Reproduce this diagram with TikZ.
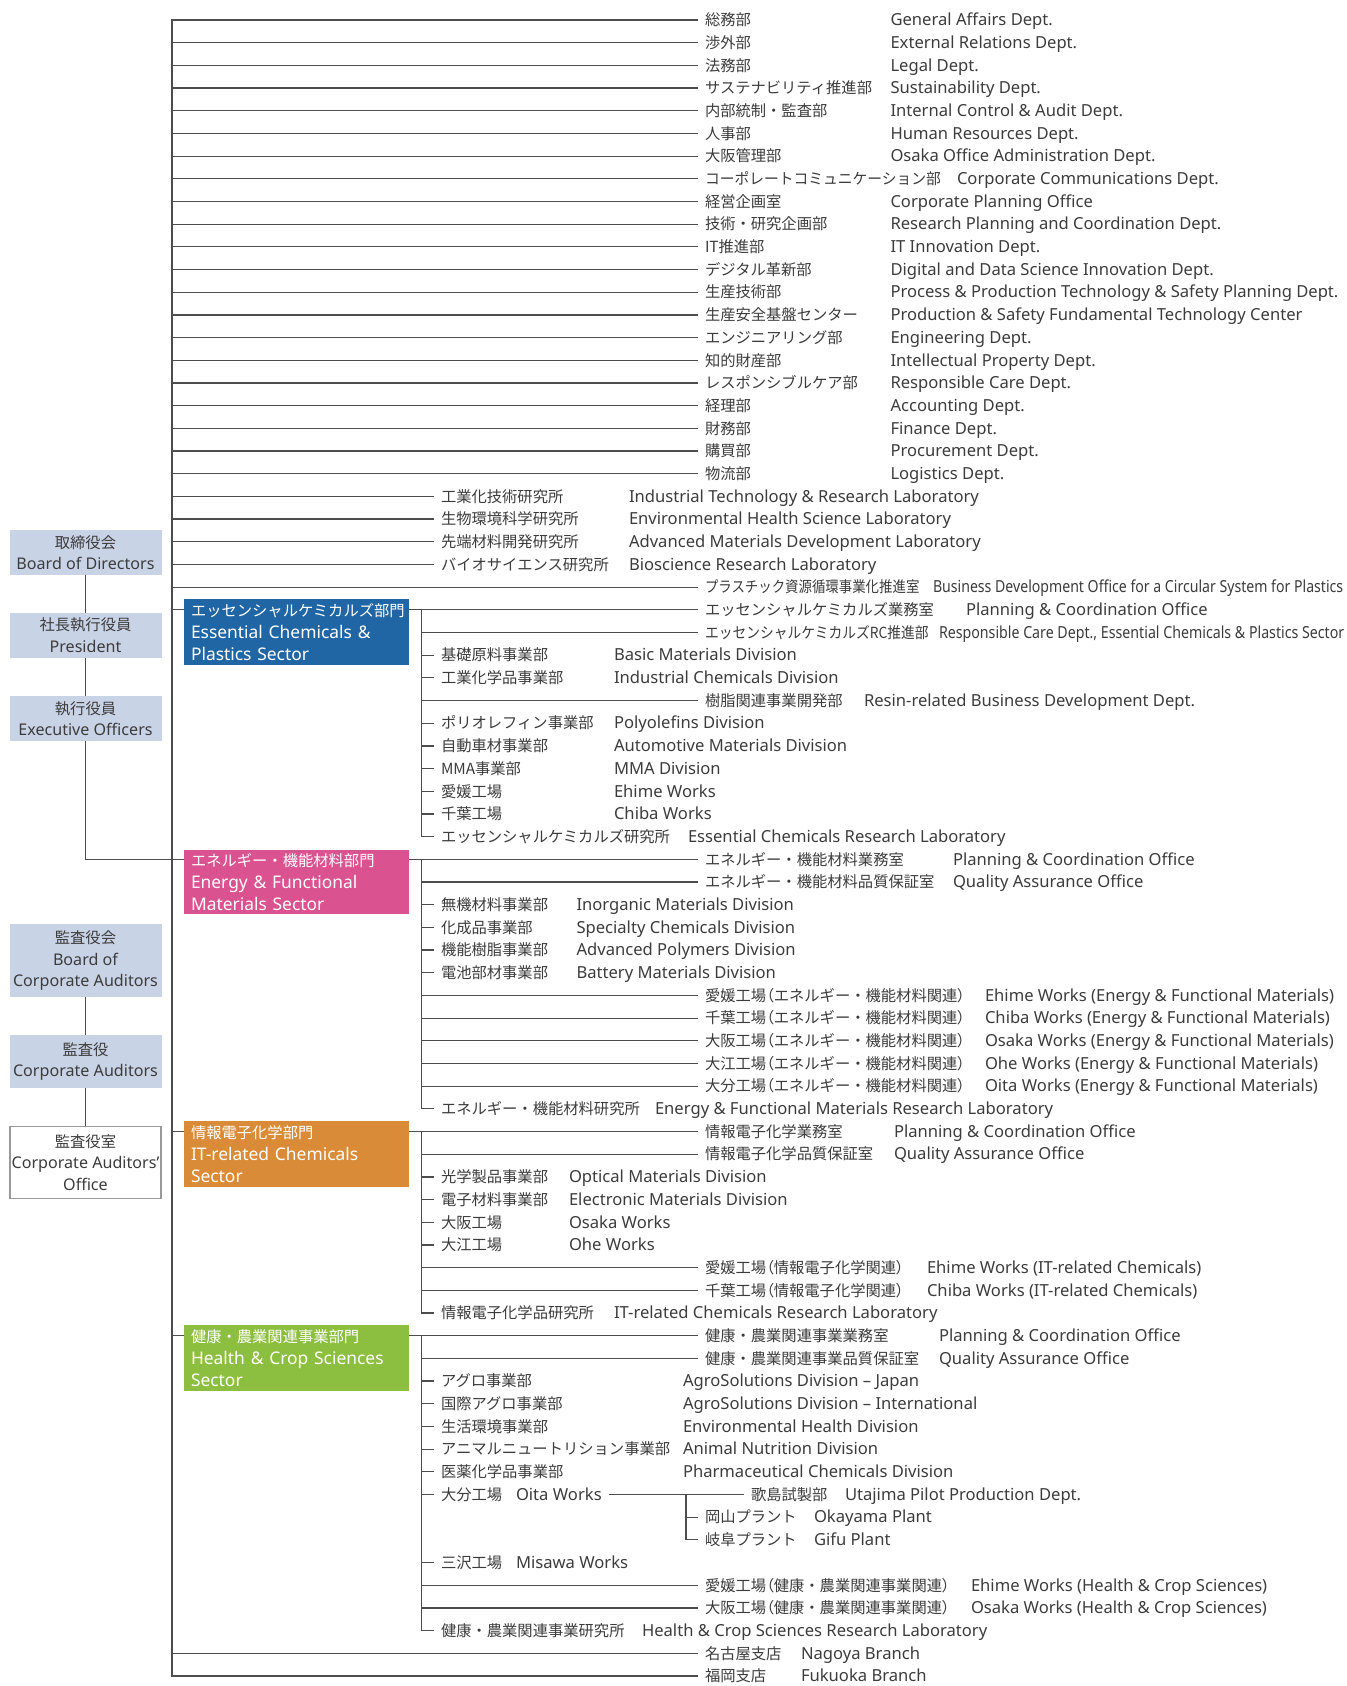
\documentclass[tikz,border=0pt]{standalone}
\usepackage{fontspec}
\usepackage{graphicx}
\setmainfont{Noto Sans}
\newfontfamily\jpf{Noto Sans CJK JP}
\newfontfamily\jpp{Noto Sans CJK JP}[RawFeature=+palt]
\newfontfamily\enf{Noto Sans}
\newcommand\jfs{\jpf\fontsize{15.3}{21.7}\selectfont}
\newcommand\efs{\enf\fontsize{16.6}{21.7}\selectfont}
\newcommand\bfs{\enf\fontsize{16.1}{21.6}\selectfont}
\newcommand\sfs{\enf\fontsize{17.4}{21.7}\selectfont}
\newcommand\lp{{\jpp （}}
\newcommand\rp{{\jpp ）}}
\definecolor{txt}{HTML}{3C3C3C}
\definecolor{lin}{HTML}{4D4D4D}
\definecolor{lbfill}{HTML}{C9D3E6}
\definecolor{essc}{HTML}{2166A4}
\definecolor{enec}{HTML}{DB5290}
\definecolor{itc}{HTML}{D98B38}
\definecolor{hcc}{HTML}{8CBF3F}
\tikzset{
  base/.style={anchor=west, inner sep=0pt, outer xsep=8pt, xshift=-8pt, text height=13.4pt, text depth=1.9pt, text=txt},
  jl/.style={base, font=\jfs},
  el/.style={base, font=\efs},
  ln/.style={draw=lin, line width=1.2pt, line cap=rect},
  lbox/.style={fill=lbfill, minimum width=152pt, inner sep=0pt, align=center, text=txt, font=\bfs},
  obox/.style={fill=white, draw=black!40, line width=1.5pt, minimum width=151pt, inner sep=0pt, align=center, text=txt, font=\bfs},
  sbox/.style={minimum width=225pt, minimum height=66pt, text width=211pt, inner xsep=7pt, inner ysep=0pt, align=left, text=white, font=\sfs},
}
\newcommand\orow[5]{\node[jl] (j#1) at (#2,#1) {#3}; \node[el] (e#1) at (#4,#1) {#5};}
\begin{document}
\begin{tikzpicture}[x=1pt,y=-22.685pt]
\useasboundingbox[fill=white] (0,0.11836) rectangle (1347,74.4416);
% left column
\node[lbox, minimum height=45pt] (bod) at (85.5,24.475) {{\jfs 取締役会}\\Board of Directors};
\node[lbox, minimum height=45pt] (pres) at (85.5,28.13) {{\jfs 社長執行役員}\\President};
\node[lbox, minimum height=45pt] (exo) at (85.5,31.79) {{\jfs 執行役員}\\Executive Officers};
\node[lbox, minimum height=73pt] (bca) at (85.5,42.46) {{\jfs 監査役会}\\Board of\\Corporate Auditors};
\node[lbox, minimum height=53pt] (ca) at (85.5,46.91) {{\jfs 監査役}\\Corporate Auditors};
\node[obox, minimum height=72pt] (cao) at (85.5,51.36) {{\jfs 監査役室}\\Corporate Auditors’\\Office};
% sector boxes
\node[sbox, fill=essc] (ess) at (296.5,27.98) {{\jfs エッセンシャルケミカルズ部門}\\Essential Chemicals \&\\Plastics Sector};
\node[sbox, fill=enec, minimum height=64pt] (ene) at (296.5,38.999) {{\jfs エネルギー・機能材料部門}\\Energy \& Functional\\Materials Sector};
\node[sbox, fill=itc] (itr) at (296.5,50.99) {{\jfs 情報電子化学部門}\\IT-related Chemicals\\Sector};
\node[sbox, fill=hcc] (hcs) at (296.5,59.98) {{\jfs 健康・農業関連事業部門}\\Health \& Crop Sciences\\Sector};
% rows
\orow{1}{705}{総務部}{890.5}{General Affairs Dept.}
\orow{2}{705}{渉外部}{890.5}{External Relations Dept.}
\orow{3}{705}{法務部}{890.5}{Legal Dept.}
\orow{4}{705}{サステナビリティ推進部}{890.5}{Sustainability Dept.}
\orow{5}{705}{内部統制・監査部}{890.5}{Internal Control \& Audit Dept.}
\orow{6}{705}{人事部}{890.5}{Human Resources Dept.}
\orow{7}{705}{大阪管理部}{890.5}{Osaka Office Administration Dept.}
\orow{8}{705}{\scalebox{0.965}[1]{コーポレートコミュニケーション部}}{957}{Corporate Communications Dept.}
\orow{9}{705}{経営企画室}{890.5}{Corporate Planning Office}
\orow{10}{705}{技術・研究企画部}{890.5}{Research Planning and Coordination Dept.}
\orow{11}{705}{IT推進部}{890.5}{IT Innovation Dept.}
\orow{12}{705}{デジタル革新部}{890.5}{Digital and Data Science Innovation Dept.}
\orow{13}{705}{生産技術部}{890.5}{Process \& Production Technology \& Safety Planning Dept.}
\orow{14}{705}{生産安全基盤センター}{890.5}{Production \& Safety Fundamental Technology Center}
\orow{15}{705}{エンジニアリング部}{890.5}{Engineering Dept.}
\orow{16}{705}{知的財産部}{890.5}{Intellectual Property Dept.}
\orow{17}{705}{レスポンシブルケア部}{890.5}{Responsible Care Dept.}
\orow{18}{705}{経理部}{890.5}{Accounting Dept.}
\orow{19}{705}{財務部}{890.5}{Finance Dept.}
\orow{20}{705}{購買部}{890.5}{Procurement Dept.}
\orow{21}{705}{物流部}{890.5}{Logistics Dept.}
\orow{22}{441}{工業化技術研究所}{629}{Industrial Technology \& Research Laboratory}
\orow{23}{441}{生物環境科学研究所}{629}{Environmental Health Science Laboratory}
\orow{24}{441}{先端材料開発研究所}{629}{Advanced Materials Development Laboratory}
\orow{25}{441}{バイオサイエンス研究所}{629}{Bioscience Research Laboratory}
\orow{26}{705}{\scalebox{0.877}[1]{プラスチック資源循環事業化推進室}}{933}{\scalebox{0.85}[1]{Business Development Office for a Circular System for Plastics}}
\orow{27}{705}{エッセンシャルケミカルズ業務室}{966}{Planning \& Coordination Office}
\orow{28}{705}{\scalebox{0.9}[1]{エッセンシャルケミカルズRC推進部}}{939}{\scalebox{0.855}[1]{Responsible Care Dept., Essential Chemicals \& Plastics Sector}}
\orow{29}{441}{基礎原料事業部}{614}{Basic Materials Division}
\orow{30}{441}{工業化学品事業部}{614}{Industrial Chemicals Division}
\orow{31}{705}{樹脂関連事業開発部}{864}{Resin-related Business Development Dept.}
\orow{32}{441}{ポリオレフィン事業部}{614}{Polyolefins Division}
\orow{33}{441}{自動車材事業部}{614}{Automotive Materials Division}
\orow{34}{441}{MMA事業部}{614}{MMA Division}
\orow{35}{441}{愛媛工場}{614}{Ehime Works}
\orow{36}{441}{千葉工場}{614}{Chiba Works}
\orow{37}{441}{エッセンシャルケミカルズ研究所}{688}{Essential Chemicals Research Laboratory}
\orow{38}{705}{エネルギー・機能材料業務室}{953}{Planning \& Coordination Office}
\orow{39}{705}{エネルギー・機能材料品質保証室}{953}{Quality Assurance Office}
\orow{40}{441}{無機材料事業部}{576.5}{Inorganic Materials Division}
\orow{41}{441}{化成品事業部}{576.5}{Specialty Chemicals Division}
\orow{42}{441}{機能樹脂事業部}{576.5}{Advanced Polymers Division}
\orow{43}{441}{電池部材事業部}{576.5}{Battery Materials Division}
\orow{44}{705}{愛媛工場\lp エネルギー・機能材料関連\rp}{985}{Ehime Works (Energy \& Functional Materials)}
\orow{45}{705}{千葉工場\lp エネルギー・機能材料関連\rp}{985}{Chiba Works (Energy \& Functional Materials)}
\orow{46}{705}{大阪工場\lp エネルギー・機能材料関連\rp}{985}{Osaka Works (Energy \& Functional Materials)}
\orow{47}{705}{大江工場\lp エネルギー・機能材料関連\rp}{985}{Ohe Works (Energy \& Functional Materials)}
\orow{48}{705}{大分工場\lp エネルギー・機能材料関連\rp}{985}{Oita Works (Energy \& Functional Materials)}
\orow{49}{441}{エネルギー・機能材料研究所}{655}{Energy \& Functional Materials Research Laboratory}
\orow{50}{705}{情報電子化学業務室}{894}{Planning \& Coordination Office}
\orow{51}{705}{情報電子化学品質保証室}{894}{Quality Assurance Office}
\orow{52}{441}{光学製品事業部}{569}{Optical Materials Division}
\orow{53}{441}{電子材料事業部}{569}{Electronic Materials Division}
\orow{54}{441}{大阪工場}{569}{Osaka Works}
\orow{55}{441}{大江工場}{569}{Ohe Works}
\orow{56}{705}{愛媛工場\lp 情報電子化学関連\rp}{927}{Ehime Works (IT-related Chemicals)}
\orow{57}{705}{千葉工場\lp 情報電子化学関連\rp}{927}{Chiba Works (IT-related Chemicals)}
\orow{58}{441}{情報電子化学品研究所}{614}{IT-related Chemicals Research Laboratory}
\orow{59}{705}{健康・農業関連事業業務室}{939}{Planning \& Coordination Office}
\orow{60}{705}{健康・農業関連事業品質保証室}{939}{Quality Assurance Office}
\orow{61}{441}{アグロ事業部}{683}{AgroSolutions Division – Japan}
\orow{62}{441}{国際アグロ事業部}{683}{AgroSolutions Division – International}
\orow{63}{441}{生活環境事業部}{683}{Environmental Health Division}
\orow{64}{441}{アニマルニュートリション事業部}{683}{Animal Nutrition Division}
\orow{65}{441}{医薬化学品事業部}{683}{Pharmaceutical Chemicals Division}
\orow{66}{441}{大分工場}{516}{Oita Works}
\node[jl] (k66) at (751,66) {歌島試製部};
\node[el] (u66) at (845,66) {Utajima Pilot Production Dept.};
\orow{67}{705}{岡山プラント}{814}{Okayama Plant}
\orow{68}{705}{岐阜プラント}{814}{Gifu Plant}
\orow{69}{441}{三沢工場}{516}{Misawa Works}
\orow{70}{705}{愛媛工場\lp 健康・農業関連事業関連\rp}{971}{Ehime Works (Health \& Crop Sciences)}
\orow{71}{705}{大阪工場\lp 健康・農業関連事業関連\rp}{971}{Osaka Works (Health \& Crop Sciences)}
\orow{72}{441}{健康・農業関連事業研究所}{642}{Health \& Crop Sciences Research Laboratory}
\orow{73}{705}{名古屋支店}{801}{Nagoya Branch}
\orow{74}{705}{福岡支店}{801}{Fukuoka Branch}
% coordinates
\coordinate (mtop) at (172,1);
\coordinate (mbot) at (172,74);
\foreach \r in {27,37,38,49,50,58,59,72} {\coordinate (r\r) at (0,\r);}
\coordinate (sx) at (421.7,0);
% left connectors
\draw[ln] (bod.south) -- (pres.north);
\draw[ln] (pres.south) -- (exo.north);
\draw[ln] (exo.south) |- (ene.west |- r38);
\draw[ln] (bca.south) -- (ca.north);
\draw[ln] (ca.south) -- (cao.north);
% main trunk
\draw[ln] (mtop) -- (mbot);
\foreach \r in {1,...,26,73,74} {\draw[ln] (172,\r) -- (j\r.west);}
% sectors
\draw[ln] (172,27) -- (ess.west |- r27);
\draw[ln] (ess.east |- r27) -- (j27.west);
\draw[ln] (sx |- r27) -- (sx |- r37);
\draw[ln] (ene.east |- r38) -- (j38.west);
\draw[ln] (sx |- r38) -- (sx |- r49);
\draw[ln] (172,50) -- (itr.west |- r50);
\draw[ln] (itr.east |- r50) -- (j50.west);
\draw[ln] (sx |- r50) -- (sx |- r58);
\draw[ln] (172,59) -- (hcs.west |- r59);
\draw[ln] (hcs.east |- r59) -- (j59.west);
\draw[ln] (sx |- r59) -- (sx |- r72);
\foreach \r in {28,...,37,39,40,...,49,51,52,...,58,60,61,...,66,69,70,71,72} {\draw[ln] (421.7,\r) -- (j\r.west);}
% Oita sub-branch
\draw[ln] (e66.east) -- (k66.west);
\draw[ln] (686,66) -- (686,68);
\draw[ln] (686,67) -- (j67.west);
\draw[ln] (686,68) -- (j68.west);
\end{tikzpicture}
\end{document}
